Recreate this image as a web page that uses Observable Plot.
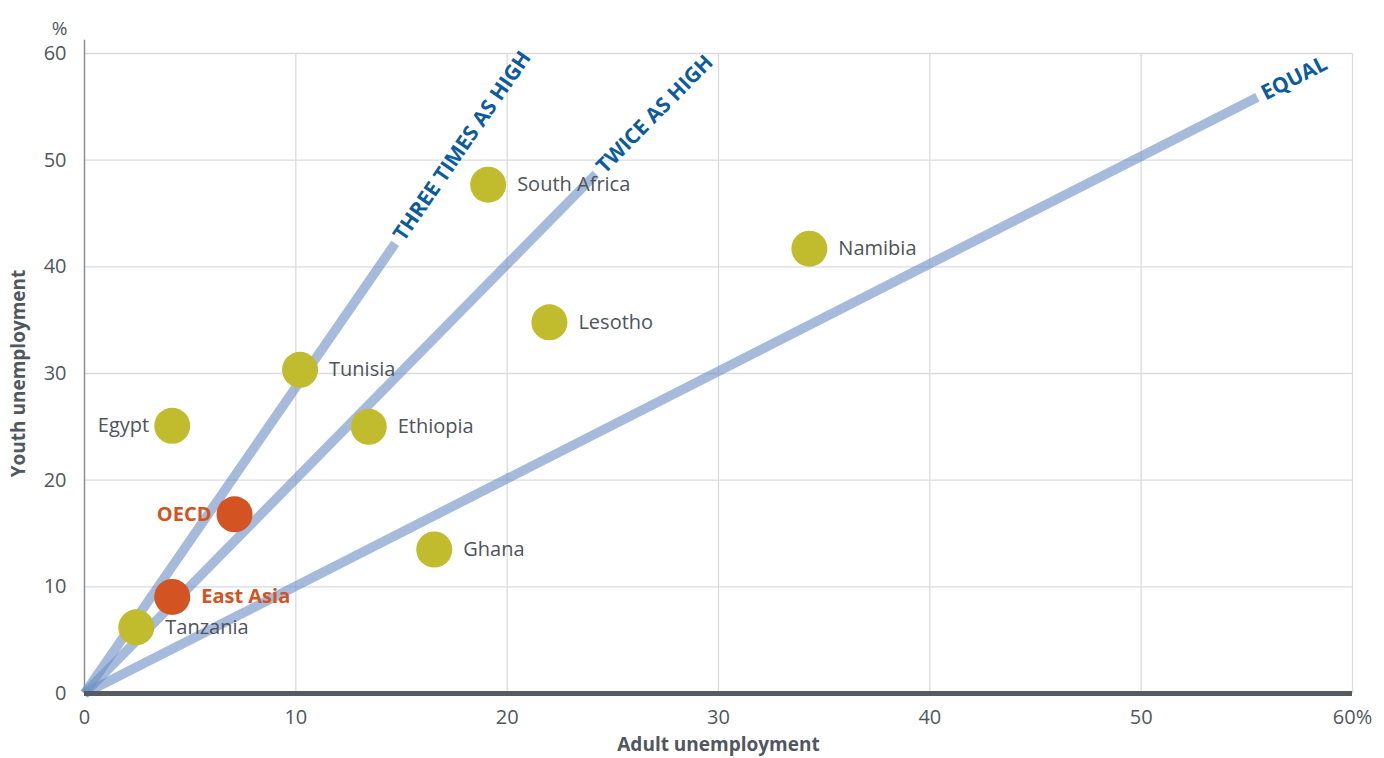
<!DOCTYPE html>
<html><head><meta charset="utf-8">
<script src="https://cdn.jsdelivr.net/npm/d3@7"></script>
<script src="https://cdn.jsdelivr.net/npm/@observablehq/plot@0.6"></script>
<style>body{margin:0;background:#fff;} svg{display:block;}</style>
</head><body><div id="chart"></div>
<script>
// Data
const names  = ["South Africa","Namibia","Lesotho","Tunisia","Egypt","Ethiopia","OECD","Ghana","East Asia","Tanzania"];
const adult  = [19.1, 34.3, 22.0, 10.2, 4.15, 13.45, 7.1, 16.55, 4.15, 2.45];
const youth  = [47.7, 41.7, 34.8, 30.35, 25.1, 25.0, 16.8, 13.5, 9.05, 6.2];
const groups = ["country","country","country","country","country","country","region","country","region","country"];
const sides  = ["right","right","right","right","left","right","left","right","right","right"];

const refNames = ["THREE TIMES AS HIGH","TWICE AS HIGH","EQUAL"];
const refEndX  = [14.7, 24.2, 55.5];
const refEndY  = [42.2, 48.7, 55.9];

const xTicks = [0,10,20,30,40,50,60];
const yTicks = [0,10,20,30,40,50,60];
const xGrid = [10,20,30,40,50,60];
const yGrid = [10,20,30,40,50,60];

const W = 1384, H = 758, mL = 84, mR = 32, mT = 53, mB = 65;
const points = names.map((n,i)=>({name:n, adult:adult[i], youth:youth[i], group:groups[i], side:sides[i]}));
const refs = refNames.map((n,i)=>({name:n, x:refEndX[i], y:refEndY[i]}));

const pxX = (W-mL-mR)/60, pxY = (H-mT-mB)/60;
const refLabelMarks = refs.map(r => {
  const ang = Math.atan2(r.y*pxY, r.x*pxX);
  const gap = 6;
  return Plot.text([r], {x:"x", y:"y", text:"name", rotate: -ang*180/Math.PI,
    textAnchor:"start", lineAnchor:"middle", dx: gap*Math.cos(ang), dy: -gap*Math.sin(ang),
    fill:"#0b5b9d", fontWeight:"bold", fontSize:21});
});

const colorOf = g => g === "region" ? "#d35322" : "#c1bc2e";
const labelMarks = [];
for (const side of ["right","left"]) {
  for (const grp of ["country","region"]) {
    const sub = points.filter(d => d.side === side && d.group === grp);
    if (!sub.length) continue;
    labelMarks.push(Plot.text(sub, {x: "adult", y: "youth", text: "name",
      textAnchor: side === "right" ? "start" : "end", dx: side === "right" ? 29 : -23,
      fill: grp === "region" ? "#d35322" : "#4d545b", fontWeight: grp === "region" ? "bold" : "normal", fontSize: 20}));
  }
}

const chart = Plot.plot({
  width: W, height: H, marginLeft: mL, marginRight: mR, marginTop: mT, marginBottom: mB,
  style: {fontFamily: "'Open Sans', sans-serif", fontSize: "20px", color: "#50575e", background: "#fff"},
  x: {domain:[0,60], ticks: xTicks, tickFormat: d => d === 60 ? "60%" : String(d), tickSize: 0, tickPadding: 16, label: null},
  y: {domain:[0,60], ticks: yTicks, tickSize: 0, tickPadding: 18, label: null},
  marks: [
    Plot.ruleX(xGrid, {y1: 0, y2: 60, stroke: "#d9dbe0", strokeWidth: 1.3}),
    Plot.ruleY(yGrid, {x1: 0, x2: 60, stroke: "#d9dbe0", strokeWidth: 1.3}),
    Plot.ruleX([0], {y1: 0, y2: 61.25, stroke: "#8a8f94", strokeWidth: 1.5}),
    Plot.link(refs, {x1: () => 0, y1: () => 0, x2: "x", y2: "y", stroke: "#6a8ec4", strokeOpacity: 0.6, strokeWidth: 9.5, strokeLinecap: "butt"}),
    Plot.ruleY([0], {x1: 0, x2: 60, stroke: "#555b60", strokeWidth: 5}),
    ...refLabelMarks,
    Plot.dot(points, {x: "adult", y: "youth", r: 18, fill: d => colorOf(d.group), stroke: "none"}),
    ...labelMarks,
    Plot.text(["Youth unemployment"], {frameAnchor: "left", text: d => d, textAnchor: "middle", rotate: -90, dx: -66, fontWeight: "bold", fill: "#50575e", fontSize: 19}),
    Plot.text(["Adult unemployment"], {frameAnchor: "bottom", text: d => d, textAnchor: "middle", dy: 57, fontWeight: "bold", fill: "#50575e", fontSize: 19}),
    Plot.text(["%"], {frameAnchor: "top-left", text: d => d, textAnchor: "end", dx: -17, dy: -32, fill: "#50575e", fontSize: 19})
  ]
});
document.getElementById("chart").appendChild(chart);
</script>
</body></html>
